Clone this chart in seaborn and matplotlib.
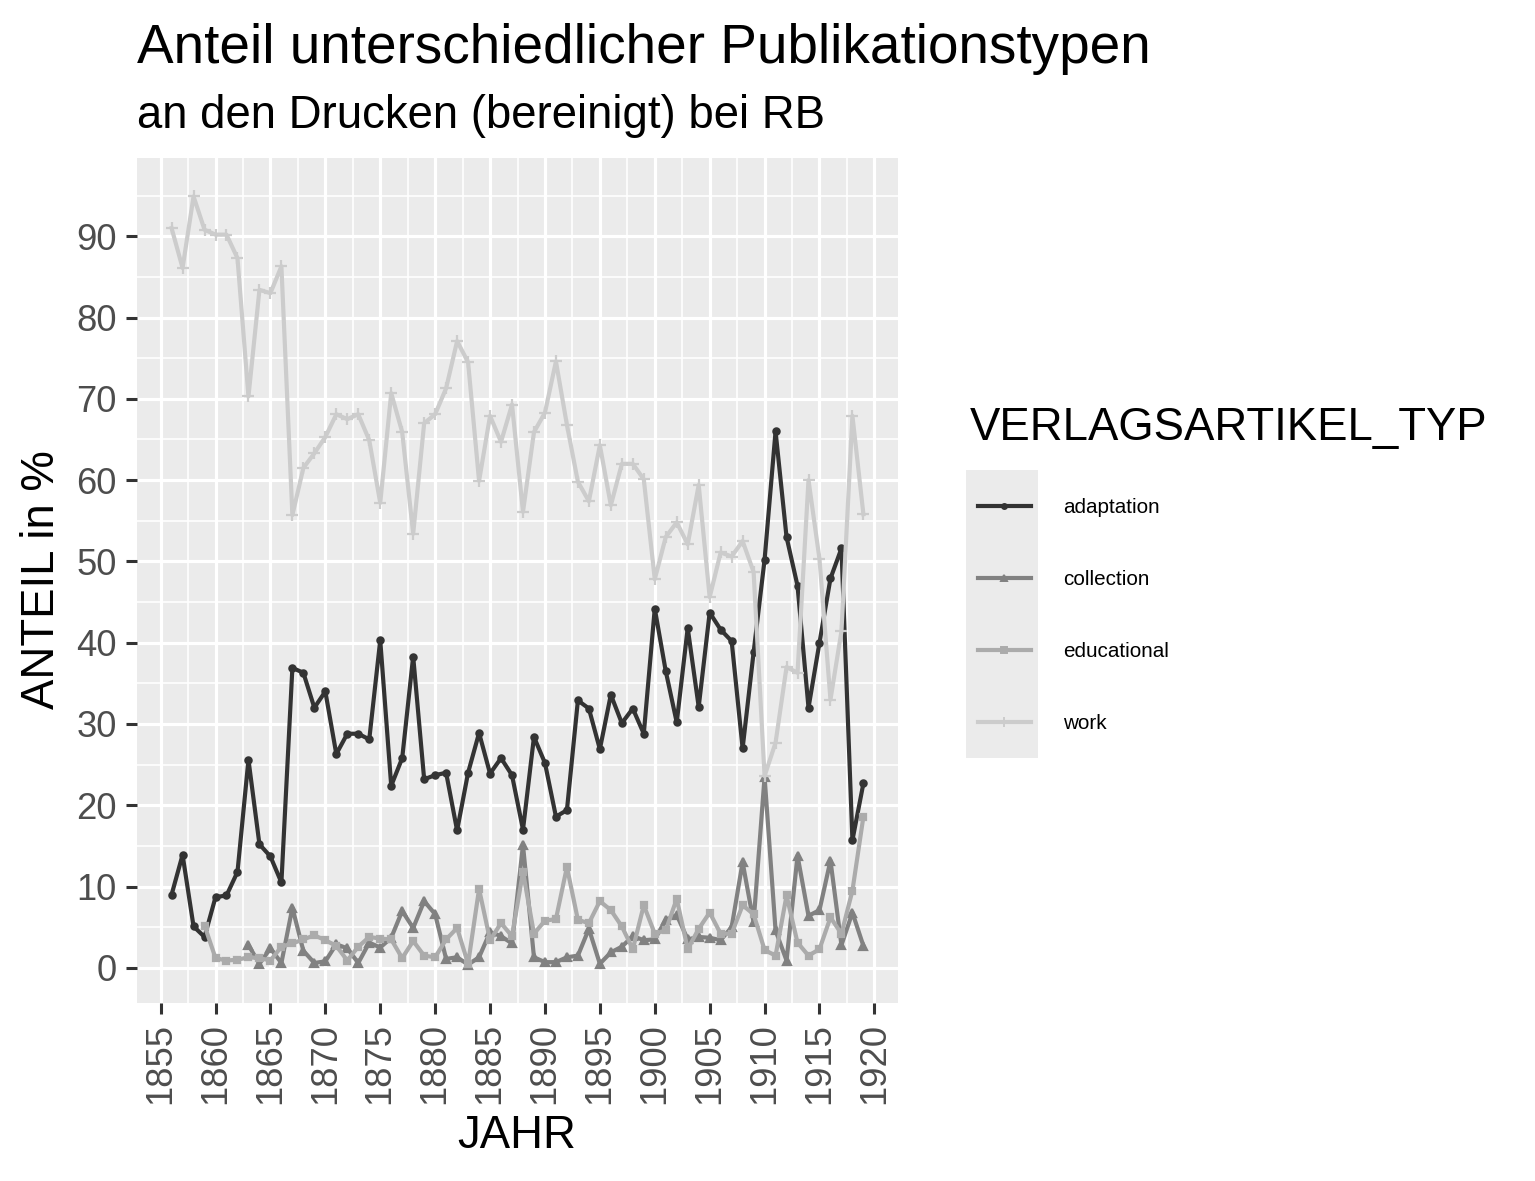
import pandas as pd
import numpy as np
import matplotlib
matplotlib.use("Agg")
import matplotlib.pyplot as plt
import matplotlib.colors as mcolors
from matplotlib.lines import Line2D
from matplotlib.patches import Rectangle
import seaborn as sns

# ---- data ----
years = list(range(1856, 1920))

adaptation = [9.0, 13.9, 5.1, 3.8, 8.7, 8.9, 11.8, 25.6, 15.2, 13.7,
              10.5, 36.9, 36.3, 32.0, 34.0, 26.3, 28.8, 28.8, 28.1, 40.3,
              22.4, 25.8, 38.3, 23.2, 23.7, 24.0, 16.9, 24.0, 28.9, 23.9,
              25.8, 23.7, 17.0, 28.4, 25.2, 18.6, 19.4, 32.9, 31.9, 26.9,
              33.6, 30.1, 31.9, 28.8, 44.2, 36.5, 30.2, 41.8, 32.1, 43.7,
              41.6, 40.2, 27.0, 38.8, 50.2, 66.0, 53.0, 47.0, 32.0, 40.0,
              47.9, 51.6, 15.7, 22.7]

work = [91.0, 86.1, 94.9, 90.8, 90.2, 90.2, 87.3, 70.3, 83.4, 83.0,
        86.3, 55.7, 61.5, 63.3, 65.3, 68.1, 67.5, 68.1, 64.9, 57.2,
        70.7, 65.9, 53.4, 67.0, 68.1, 71.3, 77.1, 74.5, 59.9, 67.9,
        64.7, 69.3, 56.1, 65.9, 68.3, 74.6, 66.8, 59.8, 57.4, 64.3,
        56.9, 62.0, 62.0, 60.1, 47.8, 53.0, 54.8, 52.1, 59.4, 45.6,
        51.1, 50.6, 52.5, 48.7, 23.6, 27.7, 37.0, 36.3, 60.0, 50.3,
        33.0, 41.4, 67.9, 55.8]

collection_years = list(range(1863, 1920))
collection = [2.8, 0.5, 2.4, 0.6, 7.4, 2.1, 0.6, 0.8, 2.9, 2.4,
              0.6, 3.1, 2.5, 3.7, 7.0, 4.9, 8.2, 6.6, 1.1, 1.3,
              0.4, 1.3, 4.4, 3.9, 3.0, 15.1, 1.3, 0.7, 0.7, 1.3,
              1.5, 4.8, 0.5, 1.9, 2.6, 3.9, 3.4, 3.5, 5.9, 6.5,
              3.5, 3.8, 3.7, 3.4, 5.0, 13.0, 5.6, 23.5, 4.6, 0.9,
              13.8, 6.4, 7.1, 13.2, 2.8, 6.8, 2.7]

educational_years = list(range(1859, 1920))
educational = [5.2, 1.2, 0.9, 1.0, 1.3, 1.2, 0.9, 2.6, 3.0, 3.5,
               4.0, 3.4, 2.7, 0.9, 2.6, 3.8, 3.6, 3.5, 1.2, 3.3,
               1.5, 1.3, 3.5, 4.9, 0.5, 9.7, 3.4, 5.5, 3.9, 11.8,
               4.2, 5.8, 6.0, 12.4, 5.9, 5.5, 8.2, 7.1, 5.1, 2.3,
               7.7, 4.2, 4.6, 8.5, 2.3, 4.8, 6.8, 4.2, 4.2, 7.7,
               6.6, 2.2, 1.5, 8.9, 3.1, 1.5, 2.3, 6.2, 4.2, 9.5,
               18.6]

types = ["adaptation", "collection", "educational", "work"]
colors = ["#333333", "#818181", "#ababab", "#cccccc"]
markers = ["o", "^", "s", "+"]
marker_sizes = [4.5, 6.2, 5.0, 8.5]

df = pd.concat([
    pd.DataFrame({"JAHR": years, "ANTEIL": adaptation, "TYP": "adaptation"}),
    pd.DataFrame({"JAHR": collection_years, "ANTEIL": collection, "TYP": "collection"}),
    pd.DataFrame({"JAHR": educational_years, "ANTEIL": educational, "TYP": "educational"}),
    pd.DataFrame({"JAHR": years, "ANTEIL": work, "TYP": "work"}),
], ignore_index=True)

# ---- style ----
plt.rcParams["font.family"] = ["Liberation Sans", "DejaVu Sans"]

W, H = 1535, 1181
fig = plt.figure(figsize=(W / 100, H / 100), dpi=100)
ax = fig.add_axes([137 / W, 1 - 1003 / H, (898 - 137) / W, (1003 - 158) / H])
ax.set_facecolor("#EBEBEB")

# seaborn refuses to mix filled and line markers, so "work" gets a
# placeholder marker that is swapped for "+" afterwards
sns.lineplot(
    data=df, x="JAHR", y="ANTEIL",
    hue="TYP", style="TYP",
    hue_order=types, style_order=types,
    palette=dict(zip(types, colors)),
    markers=dict(zip(types, ["o", "^", "s", "D"])),
    dashes=False, linewidth=3.0, legend=False, ax=ax,
)

marker_by_color = dict(zip(colors, markers))
size_by_color = dict(zip(colors, marker_sizes))
for line in ax.lines:
    c = mcolors.to_hex(line.get_color()).lower()
    if c not in marker_by_color:
        continue
    line.set_marker(marker_by_color[c])
    line.set_markersize(size_by_color[c])
    line.set_markeredgecolor(c)
    line.set_markerfacecolor(c)
    line.set_markeredgewidth(1.6)

# ---- axes ----
xlo, xhi = df["JAHR"].min(), df["JAHR"].max()
ylo, yhi = df["ANTEIL"].min(), df["ANTEIL"].max()
ax.set_xlim(xlo - 0.05 * (xhi - xlo), xhi + 0.05 * (xhi - xlo))
ax.set_ylim(ylo - 0.05 * (yhi - ylo), yhi + 0.05 * (yhi - ylo))

ax.set_xticks(range(1855, 1921, 5))
ax.set_xticks(np.arange(1857.5, 1921, 5), minor=True)
ax.set_yticks(range(0, 91, 10))
ax.set_yticks(range(5, 100, 10), minor=True)

ax.grid(which="major", color="white", linewidth=2.3)
ax.grid(which="minor", color="white", linewidth=1.2)
ax.set_axisbelow(True)
for s in ax.spines.values():
    s.set_visible(False)

ax.tick_params(which="major", length=8, width=2.2, color="#333333",
               labelcolor="#4D4D4D", labelsize=26.2, pad=6.5)
ax.tick_params(which="minor", length=0)
ax.tick_params(axis="x", labelrotation=90)
ax.set_xlabel("")
ax.set_ylabel("")

# ---- texts ----
fig.text(137 / W, 1 - 63 / H, "Anteil unterschiedlicher Publikationstypen",
         fontsize=39.5, va="baseline", ha="left")
fig.text(137 / W, 1 - 128 / H, "an den Drucken (bereinigt) bei RB",
         fontsize=32.8, va="baseline", ha="left")
fig.text(517 / W, 1 - 1148 / H, "JAHR", fontsize=32.8, va="baseline", ha="center")
fig.text(42 / W, 1 - 580 / H, "ANTEIL in %", fontsize=32.8, rotation=90,
         va="center", ha="center")

# ---- legend ----
fig.text(970 / W, 1 - 440 / H, "VERLAGSARTIKEL_TYP", fontsize=32.8,
         va="baseline", ha="left")

handles = [Line2D([], [], color=c, marker=m, markersize=ms * 0.8,
                  markeredgecolor=c, markerfacecolor=c, markeredgewidth=1.4,
                  linewidth=3.0)
           for c, m, ms in zip(colors, markers, marker_sizes)]
anchor = [975 / W, 1 - 490 / H]
leg = fig.legend(handles, types, loc="upper left",
                 bbox_to_anchor=tuple(anchor),
                 frameon=False, fontsize=14.9,
                 handlelength=2.6, handletextpad=1.55, labelspacing=2.56,
                 borderpad=0, borderaxespad=0)

# nudge the legend so that its first key sits where the reference has it
fig.canvas.draw()
renderer = fig.canvas.get_renderer()
e0 = leg.legend_handles[0].get_window_extent(renderer)
dx = 975 - e0.x0
dy = (H - 506) - (e0.y0 + e0.y1) / 2
leg.set_bbox_to_anchor((anchor[0] + dx / W, anchor[1] + dy / H),
                       transform=fig.transFigure)

# grey key background behind the legend keys
fig.canvas.draw()
exts = [h.get_window_extent(renderer) for h in leg.legend_handles]
x0 = min(e.x0 for e in exts)
centers = [(e.y0 + e.y1) / 2 for e in exts]
half = (max(centers) - min(centers)) / (len(centers) - 1) / 2
inv = fig.transFigure.inverted()
(fx0, fy0) = inv.transform((x0 - 7, min(centers) - half))
(fx1, fy1) = inv.transform((x0 - 7 + 72, max(centers) + half))
fig.add_artist(Rectangle((fx0, fy0), fx1 - fx0, fy1 - fy0,
                         transform=fig.transFigure, facecolor="#EBEBEB",
                         edgecolor="none", zorder=1))

fig.savefig("out.png", dpi=100)
